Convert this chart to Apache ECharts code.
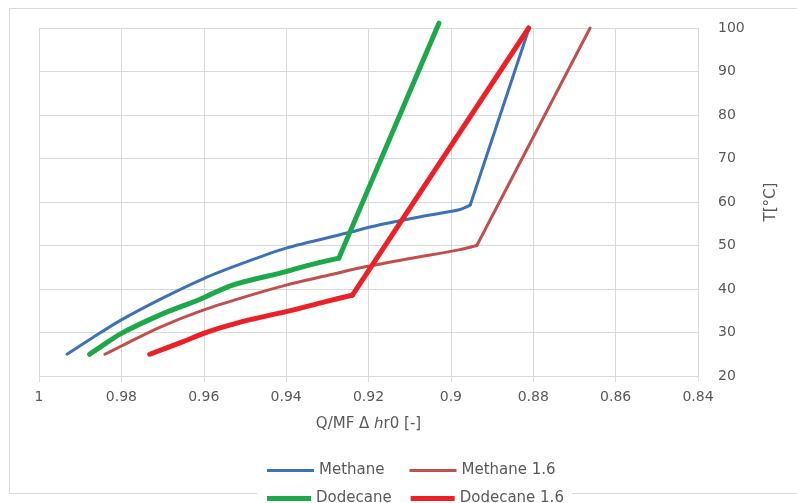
<!DOCTYPE html>
<html>
<head>
<meta charset="utf-8">
<script src="https://cdn.jsdelivr.net/npm/echarts@6/dist/echarts.min.js"></script>
<style>
    html, body {margin: 0; padding: 0; background: #fff;}
    #main {width: 797px; height: 503px;}
</style>
</head>
<body>
<div id="main"></div>
<script>
// data: [Q/MF dhr0, T]; last point = end of the straight part after the kink
var seriesNames = ['Methane', 'Methane 1.6', 'Dodecane', 'Dodecane 1.6'];
var methane = [[0.9932, 25], [0.987, 28.8], [0.98, 32.9], [0.97, 37.9], [0.96, 42.4], [0.95, 46.1],
    [0.94, 49.4], [0.9255, 52.8], [0.9175, 54.7], [0.908, 56.5], [0.898, 58.2], [0.8953, 59.3], [0.881, 100]];
var methane16 = [[0.9840, 25], [0.98, 26.9], [0.9707, 31.2], [0.96, 35.2], [0.95, 38.2], [0.94, 40.9],
    [0.93, 43.1], [0.9208, 45.1], [0.91, 47], [0.8981, 49], [0.8937, 50], [0.8662, 100]];
var dodecane = [[0.9877, 25], [0.9855, 26.4], [0.98, 29.8], [0.9707, 34], [0.961, 37.6], [0.953, 40.9],
    [0.94, 44], [0.9344, 45.5], [0.9272, 47.1], [0.9029, 101.1]];
var dodecane16 = [[0.9731, 25], [0.965, 27.9], [0.96, 29.8], [0.9562, 31], [0.949, 32.9], [0.94, 34.8],
    [0.9304, 37.1], [0.9239, 38.6], [0.8811, 100]];
var xTicks = {min: 0.84, max: 1, step: 0.02};
var yTicks = {min: 20, max: 100, step: 10};

var colors = ['#3D72B8', '#C0504D', '#1DA84A', '#EE2027'];
var widths = [3, 3, 5, 5];
var font = 'DejaVu Sans';
var grey = '#D9D9D9';

var chart = echarts.init(document.getElementById('main'));

// 曲线部分平滑，拐点之后是直线
function lines(name, data, i) {
    var base = {
        name: name,
        type: 'line',
        symbol: 'none',
        clip: false,
        color: colors[i],
        lineStyle: {width: widths[i], color: colors[i], join: 'round', cap: 'round'}
    };
    var curve = Object.assign({}, base, {data: data.slice(0, -1), smooth: 0.3});
    var straight = Object.assign({}, base, {data: data.slice(-2), smooth: false});
    return [curve, straight];
}

function legendItem(i) {
    return {name: seriesNames[i], icon: 'rect', itemStyle: {color: colors[i]}};
}

chart.setOption({
    animation: false,
    backgroundColor: '#fff',
    textStyle: {fontFamily: font},
    grid: {left: 39, right: 99, top: 28, bottom: 127},
    // 外框（底边被图例挡住）
    graphic: [
        {type: 'line', shape: {x1: 9, y1: 8.5, x2: 797, y2: 8.5}, style: {stroke: grey, lineWidth: 1}},
        {type: 'line', shape: {x1: 9.5, y1: 8, x2: 9.5, y2: 494}, style: {stroke: grey, lineWidth: 1}},
        {type: 'line', shape: {x1: 9, y1: 493.5, x2: 257, y2: 493.5}, style: {stroke: grey, lineWidth: 1}},
        {type: 'line', shape: {x1: 572, y1: 493.5, x2: 797, y2: 493.5}, style: {stroke: grey, lineWidth: 1}}
    ],
    legend: [
        {
            data: [legendItem(0), legendItem(1)],
            left: 262, top: 458,
            itemWidth: 47, itemHeight: 3, itemGap: 25,
            textStyle: {fontFamily: font, fontSize: 15, color: '#595959'}
        },
        {
            data: [legendItem(2), legendItem(3)],
            left: 262, top: 486,
            itemWidth: 44, itemHeight: 5, itemGap: 19,
            textStyle: {fontFamily: font, fontSize: 15, color: '#595959'}
        }
    ],
    xAxis: {
        type: 'value',
        inverse: true,
        min: xTicks.min, max: xTicks.max, interval: xTicks.step,
        name: 'Q/MF Δ \u210Er0 [-]',
        nameLocation: 'middle',
        nameGap: 41,
        nameTextStyle: {fontFamily: font, fontSize: 15, color: '#595959'},
        axisLine: {show: true, lineStyle: {color: grey}},
        axisTick: {show: true, length: 6, lineStyle: {color: grey}},
        axisLabel: {
            margin: 14, fontSize: 14, color: '#595959', fontFamily: font,
            formatter: function (v) { return String(+v.toFixed(2)); }
        },
        splitLine: {show: true, lineStyle: {color: grey}}
    },
    yAxis: {
        type: 'value',
        position: 'right',
        min: yTicks.min, max: yTicks.max, interval: yTicks.step,
        name: 'T[°C]',
        nameLocation: 'middle',
        nameRotate: 90,
        nameGap: 66,
        nameTextStyle: {fontFamily: font, fontSize: 15, color: '#595959'},
        axisLine: {show: false},
        axisTick: {show: false},
        axisLabel: {margin: 20, fontSize: 14, color: '#595959', fontFamily: font, align: 'left'},
        splitLine: {show: true, lineStyle: {color: grey}}
    },
    series: [].concat(
        lines(seriesNames[0], methane, 0),
        lines(seriesNames[1], methane16, 1),
        lines(seriesNames[2], dodecane, 2),
        lines(seriesNames[3], dodecane16, 3)
    )
});
</script>
</body>
</html>
